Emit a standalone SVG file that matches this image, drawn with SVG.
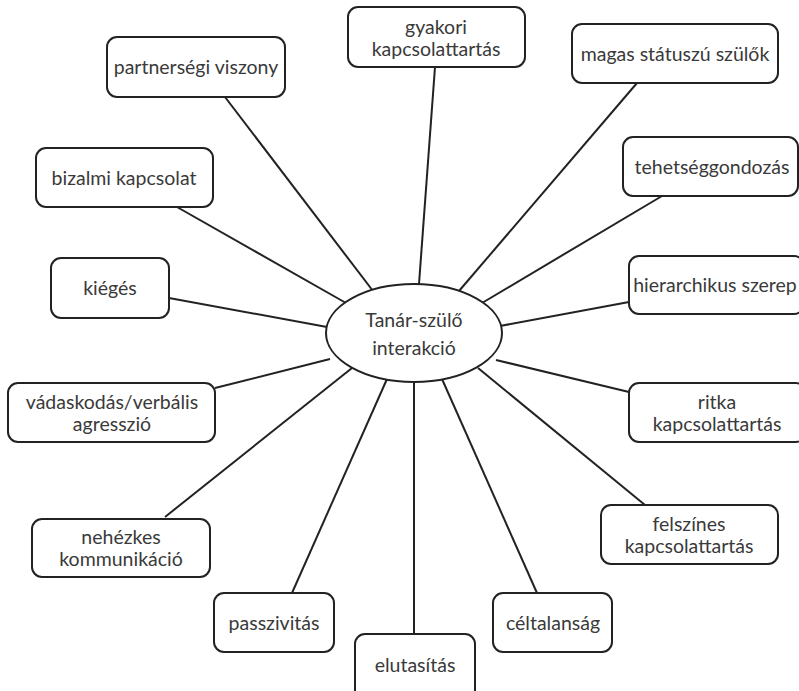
<svg xmlns="http://www.w3.org/2000/svg" width="799" height="691" viewBox="0 0 799 691">
<style>
.box{fill:#fff;stroke:#222;stroke-width:2}
.t{font-family:Lato,"Open Sans","Liberation Sans",sans-serif;font-size:19.5px;fill:#3a3a3a;text-anchor:middle}
.c line{stroke:#222;stroke-width:2}
</style>
<rect width="799" height="691" fill="#fff"/>
<g class="c" id="connectors">
<line x1="225" y1="97" x2="373" y2="291"/>
<line x1="435" y1="67" x2="419" y2="284"/>
<line x1="637" y1="83" x2="459" y2="291"/>
<line x1="177" y1="207" x2="346" y2="303"/>
<line x1="169" y1="298" x2="327" y2="327"/>
<line x1="662" y1="196" x2="482" y2="303"/>
<line x1="629" y1="302" x2="500" y2="326"/>
<line x1="215" y1="388" x2="330" y2="359"/>
<line x1="165" y1="517" x2="352" y2="368"/>
<line x1="292" y1="593" x2="387" y2="379"/>
<line x1="414" y1="634" x2="414" y2="382"/>
<line x1="537" y1="593" x2="442" y2="379"/>
<line x1="645" y1="505" x2="478" y2="368"/>
<line x1="629" y1="392" x2="496" y2="360"/>
</g>
<g id="center"><ellipse cx="414" cy="333" rx="88" ry="49" class="box"/>
<text class="t" x="414" y="327">Tanár-szülő</text><text class="t" x="414" y="355">interakció</text></g>
<g id="n1"><rect class="box" x="107" y="37" width="178" height="60" rx="10"/><text class="t" x="196" y="74">partnerségi viszony</text></g>
<g id="n2"><rect class="box" x="348" y="7" width="177" height="60" rx="10"/><text class="t" x="436" y="34">gyakori</text><text class="t" x="436" y="56">kapcsolattartás</text></g>
<g id="n3"><rect class="box" x="572" y="24" width="206" height="59" rx="10"/><text class="t" x="675" y="61">magas státuszú szülők</text></g>
<g id="n4"><rect class="box" x="36" y="148" width="177" height="59" rx="10"/><text class="t" x="124" y="185">bizalmi kapcsolat</text></g>
<g id="n5"><rect class="box" x="51" y="258" width="118" height="60" rx="10"/><text class="t" x="110" y="295">kiégés</text></g>
<g id="n6"><rect class="box" x="623" y="137" width="175" height="59" rx="10"/><text class="t" x="712" y="174">tehetséggondozás</text></g>
<g id="n7"><rect class="box" x="629" y="256" width="175" height="58" rx="10"/><text class="t" x="715" y="292">hierarchikus szerep</text></g>
<g id="n8"><rect class="box" x="8" y="383" width="207" height="59" rx="10"/><text class="t" x="112" y="409">vádaskodás/verbális</text><text class="t" x="112" y="431">agresszió</text></g>
<g id="n9"><rect class="box" x="629" y="383" width="177" height="59" rx="10"/><text class="t" x="717" y="409">ritka</text><text class="t" x="717" y="431">kapcsolattartás</text></g>
<g id="n10"><rect class="box" x="32" y="519" width="178" height="58" rx="10"/><text class="t" x="121" y="544">nehézkes</text><text class="t" x="121" y="566">kommunikáció</text></g>
<g id="n11"><rect class="box" x="601" y="505" width="177" height="59" rx="10"/><text class="t" x="689" y="531">felszínes</text><text class="t" x="689" y="553">kapcsolattartás</text></g>
<g id="n12"><rect class="box" x="214" y="593" width="120" height="59" rx="10"/><text class="t" x="274" y="630">passzivitás</text></g>
<g id="n13"><rect class="box" x="355" y="634" width="120" height="70" rx="10"/><text class="t" x="415" y="672">elutasítás</text></g>
<g id="n14"><rect class="box" x="493" y="593" width="119" height="59" rx="10"/><text class="t" x="553" y="630">céltalanság</text></g>
</svg>
